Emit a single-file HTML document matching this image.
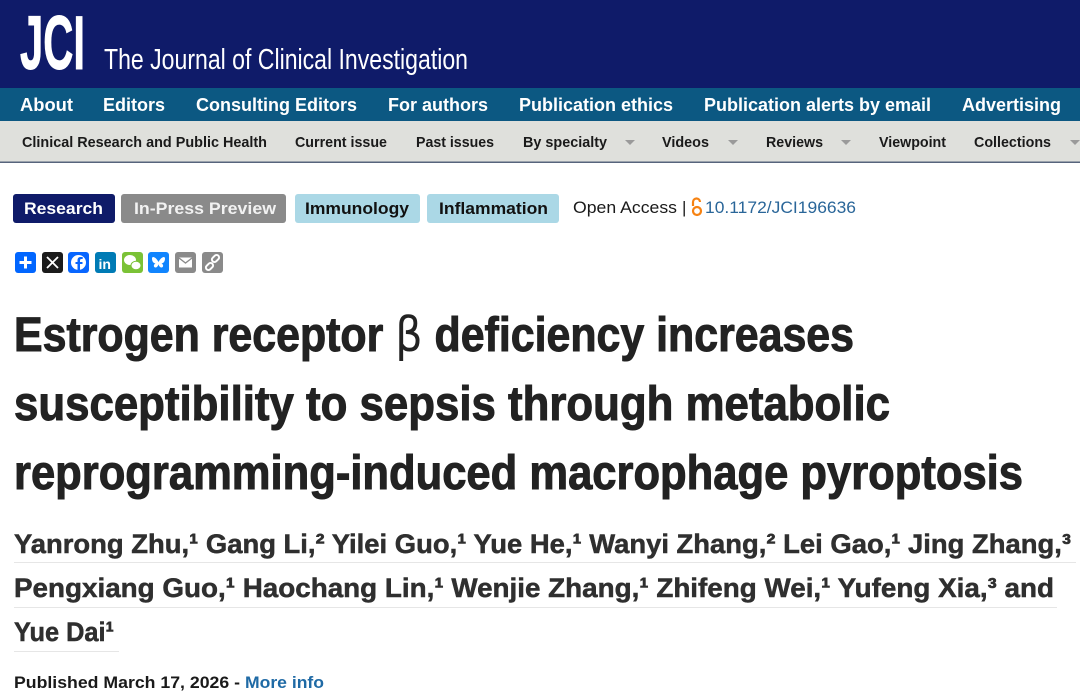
<!DOCTYPE html>
<html>
<head>
<meta charset="utf-8">
<style>
  html,body{margin:0;padding:0;background:#fff;}
  body{width:1080px;height:700px;overflow:hidden;}
  svg{display:block;}
  text{font-family:"Liberation Sans",Arial,sans-serif;}
</style>
</head>
<body>
<svg width="1080" height="700" viewBox="0 0 1080 700" xmlns="http://www.w3.org/2000/svg">
  <!-- Header -->
  <rect x="0" y="0" width="1080" height="88" fill="#0f1b69"/>
  <text x="20" y="69" font-size="76" font-weight="bold" fill="#fff" stroke="#fff" stroke-width="1" textLength="65" lengthAdjust="spacingAndGlyphs">JCI</text>
  <text x="104" y="69" font-size="29" fill="#fff" textLength="364" lengthAdjust="spacingAndGlyphs">The Journal of Clinical Investigation</text>

  <!-- Nav 1 -->
  <rect x="0" y="88" width="1080" height="33" fill="#0c5882"/>
  <g font-size="18" font-weight="bold" fill="#fff">
    <text x="20" y="111" textLength="53" lengthAdjust="spacingAndGlyphs">About</text>
    <text x="103" y="111" textLength="62" lengthAdjust="spacingAndGlyphs">Editors</text>
    <text x="196" y="111" textLength="161" lengthAdjust="spacingAndGlyphs">Consulting Editors</text>
    <text x="388" y="111" textLength="100" lengthAdjust="spacingAndGlyphs">For authors</text>
    <text x="519" y="111" textLength="154" lengthAdjust="spacingAndGlyphs">Publication ethics</text>
    <text x="704" y="111" textLength="227" lengthAdjust="spacingAndGlyphs">Publication alerts by email</text>
    <text x="962" y="111" textLength="99" lengthAdjust="spacingAndGlyphs">Advertising</text>
  </g>

  <!-- Nav 2 -->
  <rect x="0" y="121" width="1080" height="41" fill="#dfe0dc"/>
  <rect x="0" y="161.5" width="1080" height="1.5" fill="#56647c"/>
  <g font-size="15" font-weight="bold" fill="#1a1a1a">
    <text x="22" y="147" textLength="245" lengthAdjust="spacingAndGlyphs">Clinical Research and Public Health</text>
    <text x="295" y="147" textLength="92" lengthAdjust="spacingAndGlyphs">Current issue</text>
    <text x="416" y="147" textLength="78" lengthAdjust="spacingAndGlyphs">Past issues</text>
    <text x="523" y="147" textLength="84" lengthAdjust="spacingAndGlyphs">By specialty</text>
    <text x="662" y="147" textLength="47" lengthAdjust="spacingAndGlyphs">Videos</text>
    <text x="766" y="147" textLength="57" lengthAdjust="spacingAndGlyphs">Reviews</text>
    <text x="879" y="147" textLength="67" lengthAdjust="spacingAndGlyphs">Viewpoint</text>
    <text x="974" y="147" textLength="77" lengthAdjust="spacingAndGlyphs">Collections</text>
  </g>
  <g fill="#9a9a9a">
    <polygon points="625,140 635,140 630,145"/>
    <polygon points="728,140 738,140 733,145"/>
    <polygon points="841,140 851,140 846,145"/>
    <polygon points="1070,140 1080,140 1075,145"/>
  </g>

  <!-- Tags -->
  <rect x="13" y="194" width="102" height="29" rx="3" fill="#0f1b69"/>
  <rect x="121" y="194" width="165" height="29" rx="3" fill="#8a8a8a"/>
  <rect x="295" y="194" width="125" height="29" rx="3" fill="#abd8e6"/>
  <rect x="427" y="194" width="132" height="29" rx="3" fill="#abd8e6"/>
  <g font-size="17" font-weight="bold">
    <text x="24" y="214" fill="#fff" textLength="79" lengthAdjust="spacingAndGlyphs">Research</text>
    <text x="134" y="214" fill="#f2f2f2" textLength="142" lengthAdjust="spacingAndGlyphs">In-Press Preview</text>
    <text x="305" y="214" fill="#111" textLength="104" lengthAdjust="spacingAndGlyphs">Immunology</text>
    <text x="439" y="214" fill="#111" textLength="109" lengthAdjust="spacingAndGlyphs">Inflammation</text>
  </g>
  <text x="573" y="213" font-size="17" fill="#1a1a1a" textLength="104" lengthAdjust="spacingAndGlyphs">Open Access</text>
  <text x="682" y="213" font-size="17" fill="#1a1a1a">|</text>
  <!-- OA icon -->
  <g fill="none" stroke="#f68212" stroke-width="2.2">
    <path d="M693,206 v-4 a3.5,3.5 0 0 1 7,0"/>
    <circle cx="697" cy="211" r="4"/>
  </g>
  <text x="705" y="213" font-size="17" fill="#2a6699" textLength="151" lengthAdjust="spacingAndGlyphs">10.1172/JCI196636</text>

  <!-- Share icons -->
  <g>
    <rect x="15" y="252" width="21" height="21" rx="3" fill="#0166ff"/>
    <rect x="19.5" y="261" width="12" height="3" fill="#fff"/>
    <rect x="24" y="256.5" width="3" height="12" fill="#fff"/>

    <rect x="42" y="252" width="21" height="21" rx="3" fill="#1b1b1b"/>
    <path d="M47,257 L58,268 M58,257 L47,268" stroke="#fff" stroke-width="1.8"/>

    <rect x="68" y="252" width="21" height="21" rx="3" fill="#0866ff"/>
    <circle cx="78.5" cy="262.5" r="7.5" fill="#fff"/>
    <path d="M80,271 v-7 h2.5 v-2 h-2.5 v-1.5 c0,-1 0.5,-1.5 1.5,-1.5 h1.2 v-2 h-2 c-2.2,0 -3.2,1.3 -3.2,3.3 v1.7 h-2 v2 h2 v7 z" fill="#0866ff"/>

    <rect x="95" y="252" width="21" height="21" rx="3" fill="#007bb5"/>
    <text x="98.5" y="269" font-size="14" font-weight="bold" fill="#fff">in</text>

    <rect x="122" y="252" width="21" height="21" rx="3" fill="#7bc236"/>
    <ellipse cx="130" cy="260" rx="6" ry="5" fill="#fff"/>
    <ellipse cx="136" cy="265.5" rx="5" ry="4.2" fill="#fff" stroke="#7bc236" stroke-width="1"/>

    <rect x="148" y="252" width="21" height="21" rx="3" fill="#1185fe"/>
    <path d="M158.5,262 C156,257 152,255.5 152,258.5 C152,261 153,263 155.5,263.5 C153,264.5 153.5,268 156,267.5 C157.5,267 158.5,265 158.5,264 C158.5,265 159.5,267 161,267.5 C163.5,268 164,264.5 161.5,263.5 C164,263 165,261 165,258.5 C165,255.5 161,257 158.5,262 Z" fill="#fff"/>

    <rect x="175" y="252" width="21" height="21" rx="3" fill="#8a8a8a"/>
    <rect x="179" y="257.5" width="13" height="10" fill="#fff"/>
    <path d="M179,258 L185.5,263 L192,258" stroke="#8a8a8a" stroke-width="1.3" fill="none"/>

    <rect x="202" y="252" width="21" height="21" rx="3" fill="#8a8a8a"/>
    <g stroke="#fff" stroke-width="2" fill="none">
      <rect x="213" y="254.5" width="5" height="8" rx="2.5" transform="rotate(45 215.5 258.5)"/>
      <rect x="207" y="262.5" width="5" height="8" rx="2.5" transform="rotate(45 209.5 266.5)"/>
    </g>
  </g>

  <!-- Title -->
  <g font-size="48" font-weight="bold" fill="#222" stroke="#222" stroke-width="1">
    <text x="14" y="351" textLength="840" lengthAdjust="spacingAndGlyphs">Estrogen receptor <tspan font-weight="normal" stroke-width="0" font-family="DejaVu Sans, sans-serif">β</tspan> deficiency increases</text>
    <text x="14" y="420" textLength="876" lengthAdjust="spacingAndGlyphs">susceptibility to sepsis through metabolic</text>
    <text x="14" y="489" textLength="1009" lengthAdjust="spacingAndGlyphs">reprogramming-induced macrophage pyroptosis</text>
  </g>

  <!-- Author underlines -->
  <g fill="#e6e6e6">
    <rect x="14" y="562" width="1062" height="1"/>
    <rect x="14" y="607" width="1043" height="1"/>
    <rect x="14" y="651" width="105" height="1"/>
  </g>
  <!-- Authors -->
  <g font-size="27" font-weight="bold" fill="#2f2f2f" stroke="#2f2f2f" stroke-width="0.5">
    <text x="14" y="553" textLength="1057" lengthAdjust="spacingAndGlyphs">Yanrong Zhu,¹ Gang Li,² Yilei Guo,¹ Yue He,¹ Wanyi Zhang,² Lei Gao,¹ Jing Zhang,³</text>
    <text x="14" y="597" textLength="1040" lengthAdjust="spacingAndGlyphs">Pengxiang Guo,¹ Haochang Lin,¹ Wenjie Zhang,¹ Zhifeng Wei,¹ Yufeng Xia,³ and</text>
    <text x="14" y="641" textLength="100" lengthAdjust="spacingAndGlyphs">Yue Dai¹</text>
  </g>

  <!-- Published -->
  <g font-size="17" font-weight="bold">
    <text x="14" y="688" fill="#1a1a1a" textLength="226" lengthAdjust="spacingAndGlyphs">Published March 17, 2026 -</text>
    <text x="245" y="688" fill="#1f6aa5" textLength="79" lengthAdjust="spacingAndGlyphs">More info</text>
  </g>
</svg>
</body>
</html>
